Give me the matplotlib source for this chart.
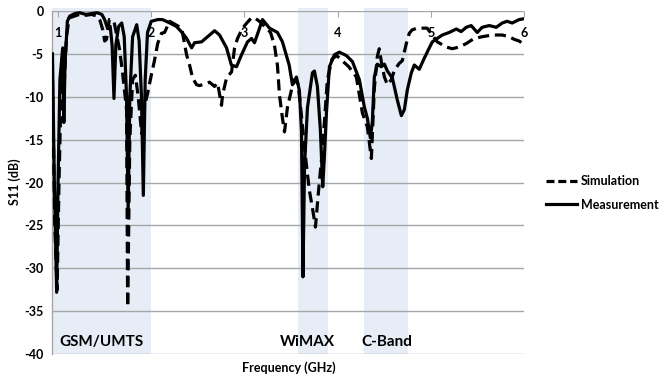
import matplotlib
matplotlib.use("Agg")
import matplotlib.pyplot as plt
from matplotlib.lines import Line2D

plt.rcParams['font.family'] = ['Lato', 'DejaVu Sans']
plt.rcParams['font.weight'] = 'bold'

# Measurement (solid)
meas_f = [0.94, 0.96, 0.985, 1.00, 1.02, 1.05, 1.062, 1.075, 1.10, 1.125, 1.18, 1.23, 1.30, 1.36, 1.42,
          1.47, 1.50, 1.53, 1.56, 1.58, 1.60, 1.62, 1.65, 1.683, 1.71, 1.735, 1.752, 1.77, 1.80, 1.844,
          1.87, 1.895, 1.915, 1.935, 1.96, 2.00, 2.07, 2.12, 2.20, 2.27, 2.33, 2.38, 2.433, 2.465, 2.54,
          2.68, 2.733, 2.808, 2.86, 2.915, 2.969, 3.033, 3.076, 3.108, 3.194, 3.269, 3.354, 3.408, 3.48,
          3.515, 3.558, 3.59, 3.612, 3.628, 3.645, 3.676, 3.73, 3.751, 3.783, 3.815, 3.84, 3.858, 3.88,
          3.912, 3.966, 4.019, 4.094, 4.159, 4.233, 4.287, 4.319, 4.351, 4.372, 4.394, 4.426, 4.469,
          4.502, 4.534, 4.587, 4.641, 4.684, 4.716, 4.748, 4.791, 4.823, 4.876, 4.93, 4.984, 5.016,
          5.069, 5.123, 5.198, 5.273, 5.326, 5.38, 5.433, 5.498, 5.551, 5.627, 5.702, 5.766, 5.819,
          5.873, 5.948, 6.0]
meas_db = [-5.0, -20, -32.8, -20, -8, -4.3, -13.0, -6, -1.2, -0.6, -0.3, -0.2, -0.4, -0.3, -0.2,
           -0.4, -1.0, -2.0, -1.8, -4, -10.2, -4, -1.8, -1.4, -3.0, -10, -23.6, -10, -3, -1.6,
           -3.5, -10, -21.5, -8, -2.5, -1.2, -1.0, -1.0, -1.4, -1.8, -2.5, -3.2, -4.3, -3.7, -3.6,
           -2.3, -2.8, -4.3, -6.3, -6.5, -5.1, -3.6, -3.2, -3.7, -1.0, -2.0, -2.5, -3.6, -6.3,
           -8.6, -7.7, -9.3, -14, -31, -18, -11.3, -7.2, -7.0, -8.8, -13.9, -20.5, -17, -11.9,
           -6.5, -5.1, -4.8, -5.2, -5.9, -8.0, -11.2, -12.5, -14.8, -13, -7.7, -6.2, -6.5,
           -6.2, -7, -7.8, -10.4, -12.2, -11.5, -9.2, -7.2, -6.3, -6.8, -5.5, -4.3, -3.6,
           -3.2, -2.8, -2.5, -2.1, -2.4, -1.9, -1.7, -2.5, -1.9, -1.7, -1.9, -1.4, -1.2,
           -1.4, -1.0, -0.9]

# Simulation (dashed)
sim_f = [0.94, 0.965, 0.99, 1.01, 1.035, 1.045, 1.06, 1.09, 1.12, 1.23, 1.30, 1.36, 1.42, 1.45, 1.48,
         1.50, 1.52, 1.55, 1.60, 1.66, 1.69, 1.735, 1.747, 1.77, 1.80, 1.83, 1.86, 1.897, 1.93, 1.961,
         2.004, 2.036, 2.069, 2.11, 2.143, 2.197, 2.23, 2.326, 2.379, 2.411, 2.444, 2.486, 2.519, 2.626,
         2.679, 2.712, 2.754, 2.765, 2.808, 2.862, 2.894, 2.926, 2.979, 3.033, 3.076, 3.11, 3.16, 3.22,
         3.28, 3.322, 3.354, 3.376, 3.408, 3.43, 3.462, 3.505, 3.537, 3.575, 3.61, 3.645, 3.676, 3.698,
         3.73, 3.762, 3.795, 3.83, 3.858, 3.89, 3.94, 3.99, 4.05, 4.12, 4.201, 4.266, 4.319, 4.362,
         4.394, 4.426, 4.447, 4.469, 4.502, 4.534, 4.577, 4.609, 4.662, 4.694, 4.737, 4.769, 4.80,
         4.855, 4.96, 5.016, 5.069, 5.166, 5.23, 5.305, 5.38, 5.465, 5.551, 5.659, 5.766, 5.841,
         5.894, 5.948, 6.0]
sim_db = [-8, -25, -32.5, -20, -8, -5.5, -10, -3, -0.8, -0.4, -0.5, -0.4, -0.6, -1.1, -2.2,
          -3.5, -3.3, -1.0, -1.2, -4.5, -7.0, -11.5, -34.5, -15, -8, -7.5, -10, -14.3, -11, -9.6,
          -7.3, -5.7, -3.8, -2.6, -2.5, -1.2, -1.4, -2.0, -5.1, -6.3, -7.8, -8.6, -8.7, -8.3,
          -8.8, -8.4, -11.0, -9.8, -7.8, -7.1, -4.3, -3.2, -2.0, -1.3, -0.8, -0.8, -1.2, -1.8,
          -2.5, -4.0, -6.3, -9.8, -12.5, -14.1, -11.2, -9.2, -8.0, -8.5, -12, -16, -19, -21,
          -23, -25.2, -21, -17, -13, -8, -5.6, -5.2, -5.8, -6.5, -7.7, -11.9, -13.5, -17.2,
          -9, -5.3, -4.4, -5.9, -7.7, -8.6, -8.0, -6.9, -6.1, -5.8, -3.8, -2.6, -2.2,
          -2.0, -2.0, -2.8, -3.6, -4.2, -4.4, -4.2, -3.8, -3.2, -3.0, -2.8, -2.8, -3.0,
          -3.3, -3.5, -3.9]

bands = [("GSM/UMTS", 0.935, 2.0), ("WiMAX", 3.57, 3.90), ("C-Band", 4.28, 4.75)]
band_label_x = [1.47, 3.675, 4.53]
x_ticks = [1, 2, 3, 4, 5, 6]
y_ticks = [0, -5, -10, -15, -20, -25, -30, -35, -40]

fig = plt.figure(figsize=(6.68, 3.76), dpi=100)
ax = fig.add_axes([52/668, 1-354/376, (524-52)/668, (354-11)/376])
ax.set_xlim(0.935, 6.0)
ax.set_ylim(-40, 0)

shade = '#E6EDF7'
for (name, a, b), lx in zip(bands, band_label_x):
    ax.fill_between([a, b], -40, 0.35, color=shade, lw=0, zorder=0, clip_on=False)
    ax.text(lx, -38.6, name, ha='center', va='center', fontsize=11, fontweight='bold', zorder=5)

for y in y_ticks:
    ax.axhline(y, color='#A6A6A6', lw=1.0, zorder=1)

ax.plot(sim_f, sim_db, color='black', lw=2.3, dashes=(3.5, 1.8), zorder=3,
        solid_joinstyle='round')
ax.plot(meas_f, meas_db, color='black', lw=2.3, zorder=4, solid_joinstyle='round')

for s in ['right', 'bottom', 'top']:
    ax.spines[s].set_visible(False)
ax.spines['left'].set_color('#A6A6A6')
ax.spines['left'].set_linewidth(1.0)

ax.set_xticks(x_ticks)
ax.set_xticklabels([str(t) for t in x_ticks])
ax.set_yticks(y_ticks)
ax.set_yticklabels([str(t) for t in y_ticks])
ax.tick_params(axis='x', top=True, bottom=False, labeltop=True, labelbottom=False,
               direction='in', length=4, color='#A6A6A6', pad=-20, labelsize=9)
ax.tick_params(axis='y', length=0, pad=6, labelsize=9)
for lab in ax.get_xticklabels() + ax.get_yticklabels():
    lab.set_fontweight('bold')

fig.text(289/668, 1-368/376, "Frequency (GHz)", ha='center', va='center', fontsize=9, fontweight='bold')
fig.text(15/668, 1-182/376, "S11 (dB)", ha='center', va='center', rotation=90, fontsize=9, fontweight='bold')

handles = [Line2D([], [], color='black', lw=2.3, dashes=(2.5, 1.2)),
           Line2D([], [], color='black', lw=2.3)]
leg = fig.legend(handles, ["Simulation", "Measurement"], loc='center left',
                 bbox_to_anchor=(546/668, 1-193/376), frameon=False, borderpad=0,
                 borderaxespad=0, handlelength=2.5, handletextpad=0.3, labelspacing=0.9,
                 prop={'size': 9, 'weight': 'bold'})

fig.savefig("out.png", dpi=100)
